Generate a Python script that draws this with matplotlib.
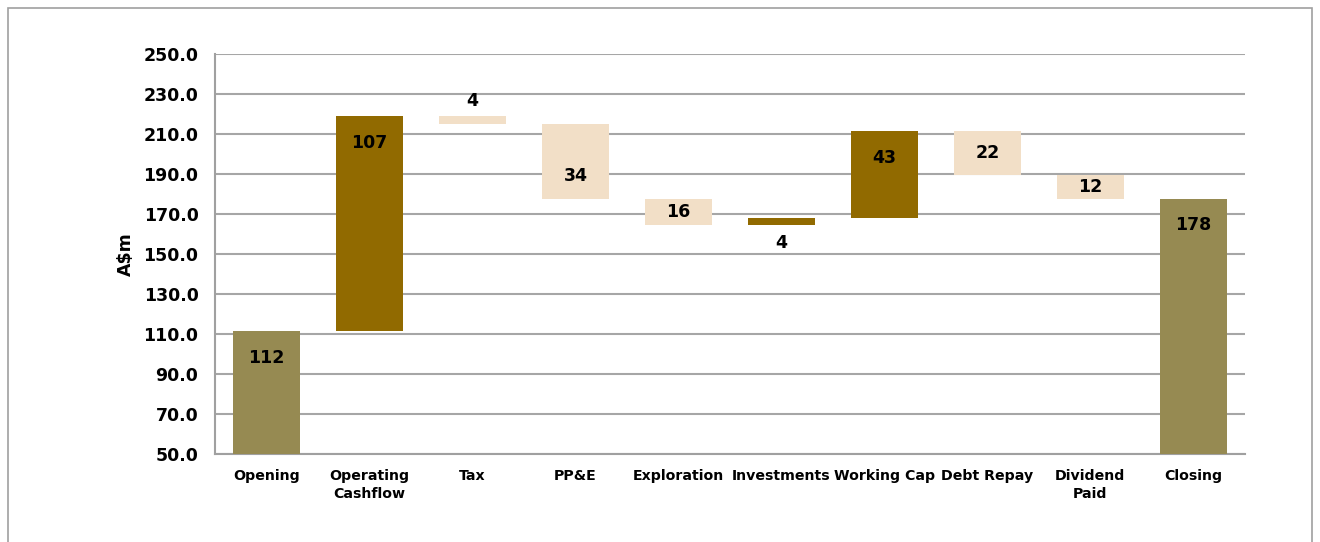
import matplotlib.pyplot as plt
from matplotlib.patches import Rectangle

# Cash waterfall (A$m)
categories = ['Opening', 'Operating\nCashflow', 'Tax', 'PP&E', 'Exploration',
              'Investments', 'Working Cap', 'Debt Repay', 'Dividend\nPaid', 'Closing']
bar_bottoms = [0, 111.5, 215.0, 177.5, 164.7, 164.7, 168.3, 189.5, 177.7, 0]
bar_tops = [111.5, 219.0, 219.0, 215.0, 177.5, 168.3, 211.5, 211.5, 189.5, 177.7]
labels = ['112', '107', '4', '34', '16', '4', '43', '22', '12', '178']
kinds = ['total', 'up', 'down', 'down', 'down', 'up', 'up', 'down', 'down', 'total']
label_where = ['top', 'top', 'above', 'bottom', 'center', 'below', 'top', 'center', 'center', 'top']

colors = {'total': '#968A52', 'up': '#916A00', 'down': '#F2DFC7'}
font = ['DejaVu Sans']

fig = plt.figure(figsize=(13.2, 5.42), dpi=100)
ax = fig.add_axes([0.163, 0.162, 0.780, 0.738])

x = list(range(len(categories)))
heights = [t - b for t, b in zip(bar_tops, bar_bottoms)]
ax.bar(x, heights, bottom=bar_bottoms, width=0.65,
       color=[colors[k] for k in kinds], zorder=3)

for i in x:
    t, b = bar_tops[i], bar_bottoms[i]
    w = label_where[i]
    if w == 'top':
        y, off = t, -19
    elif w == 'above':
        y, off = t, 11
    elif w == 'below':
        y, off = b, -13
    elif w == 'bottom':
        y, off = b, 17
    else:
        y, off = (t + b) / 2, 0
    ax.annotate(labels[i], (i, y), xytext=(0, off), textcoords='offset points',
                ha='center', va='center', fontsize=12.5, fontweight='bold',
                family=font, color='black', zorder=4)

ax.set_xlim(-0.5, len(categories) - 0.5)
ax.set_ylim(50, 250)
ax.set_yticks(range(50, 251, 20))
ax.set_yticklabels([f'{v:.1f}' for v in range(50, 251, 20)])
ax.set_xticks(x)
ax.set_xticklabels(categories, fontsize=10.2, fontweight='bold', family=font,
                   linespacing=1.35)
for lab in ax.get_yticklabels():
    lab.set_fontsize(12.5)
    lab.set_fontweight('bold')
    lab.set_family(font)
ax.tick_params(axis='both', length=0)
ax.tick_params(axis='y', pad=12)
ax.tick_params(axis='x', pad=11)

ax.yaxis.grid(True, color='#A6A6A6', linewidth=1.5, zorder=0)
ax.set_axisbelow(True)
for side in ['top', 'right']:
    ax.spines[side].set_visible(False)
for side in ['left', 'bottom']:
    ax.spines[side].set_color('#A0A0A0')
    ax.spines[side].set_linewidth(1.5)

ax.set_ylabel('A$m', fontsize=12.5, fontweight='bold', family=font, labelpad=6)

# outer chart frame
fig.patches.append(Rectangle((0.006, -0.02), 0.988, 1.005, transform=fig.transFigure,
                             fill=False, edgecolor='#A0A0A0', linewidth=1.2))

fig.savefig('out.png', dpi=100)
plt.close(fig)
